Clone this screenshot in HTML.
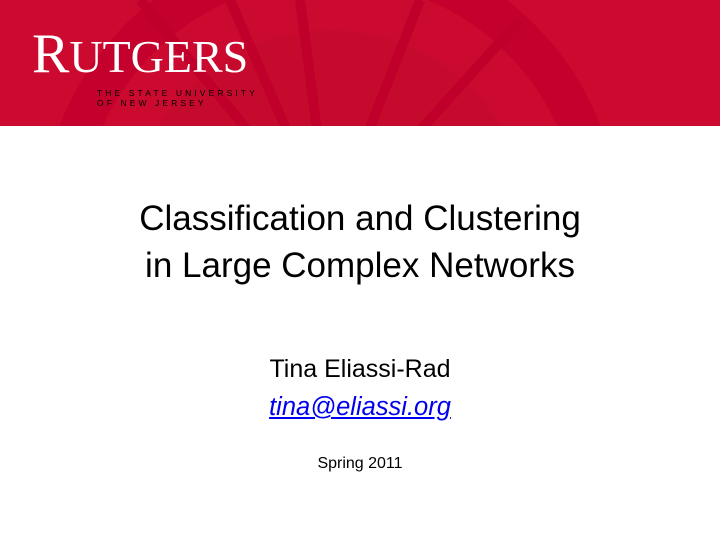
<!DOCTYPE html>
<html><head><style>
body{margin:0;width:720px;height:540px;background:#fff;position:relative;overflow:hidden;font-family:"Liberation Sans",sans-serif}
.hdr{position:absolute;left:0;top:0;width:720px;height:126px;background:#cc0a2f;overflow:hidden}
.c{position:absolute;left:0;width:720px;text-align:center;color:#000}
</style></head><body>
<div class="hdr">
<svg width="720" height="126" style="position:absolute;left:0;top:0">
<circle cx="330" cy="230" r="270" fill="none" stroke="#c4002c" stroke-width="40"/>
<circle cx="330" cy="230" r="200" fill="#c60a2e"/>
<g stroke="#c0002b" stroke-width="10">
<line x1="330" y1="230" x2="140" y2="0"/><line x1="330" y1="230" x2="230" y2="0"/>
<line x1="330" y1="230" x2="300" y2="0"/><line x1="330" y1="230" x2="420" y2="0"/>
<line x1="330" y1="230" x2="520" y2="20"/>
</g>
</svg>
<div style="position:absolute;left:32px;top:26px;color:#fff;font-family:'Liberation Serif',serif;font-size:46px;line-height:1"><span style="font-size:56px">R</span>UTGERS</div>
<div style="position:absolute;left:97px;top:88px;color:#000;font-size:8.5px;letter-spacing:3.1px;line-height:10px">THE STATE UNIVERSITY<br>OF NEW JERSEY</div>
</div>
<div class="c" style="top:195px;font-size:35px;line-height:47px">Classification and Clustering<br>in Large Complex Networks</div>
<div class="c" style="top:355px;font-size:25px">Tina Eliassi-Rad</div>
<div class="c" style="top:393px;font-size:25.5px"><span style="color:#0000ee;text-decoration:underline;font-style:italic">tina@eliassi.org</span></div>
<div class="c" style="top:455px;font-size:16px">Spring 2011</div>
</body></html>
